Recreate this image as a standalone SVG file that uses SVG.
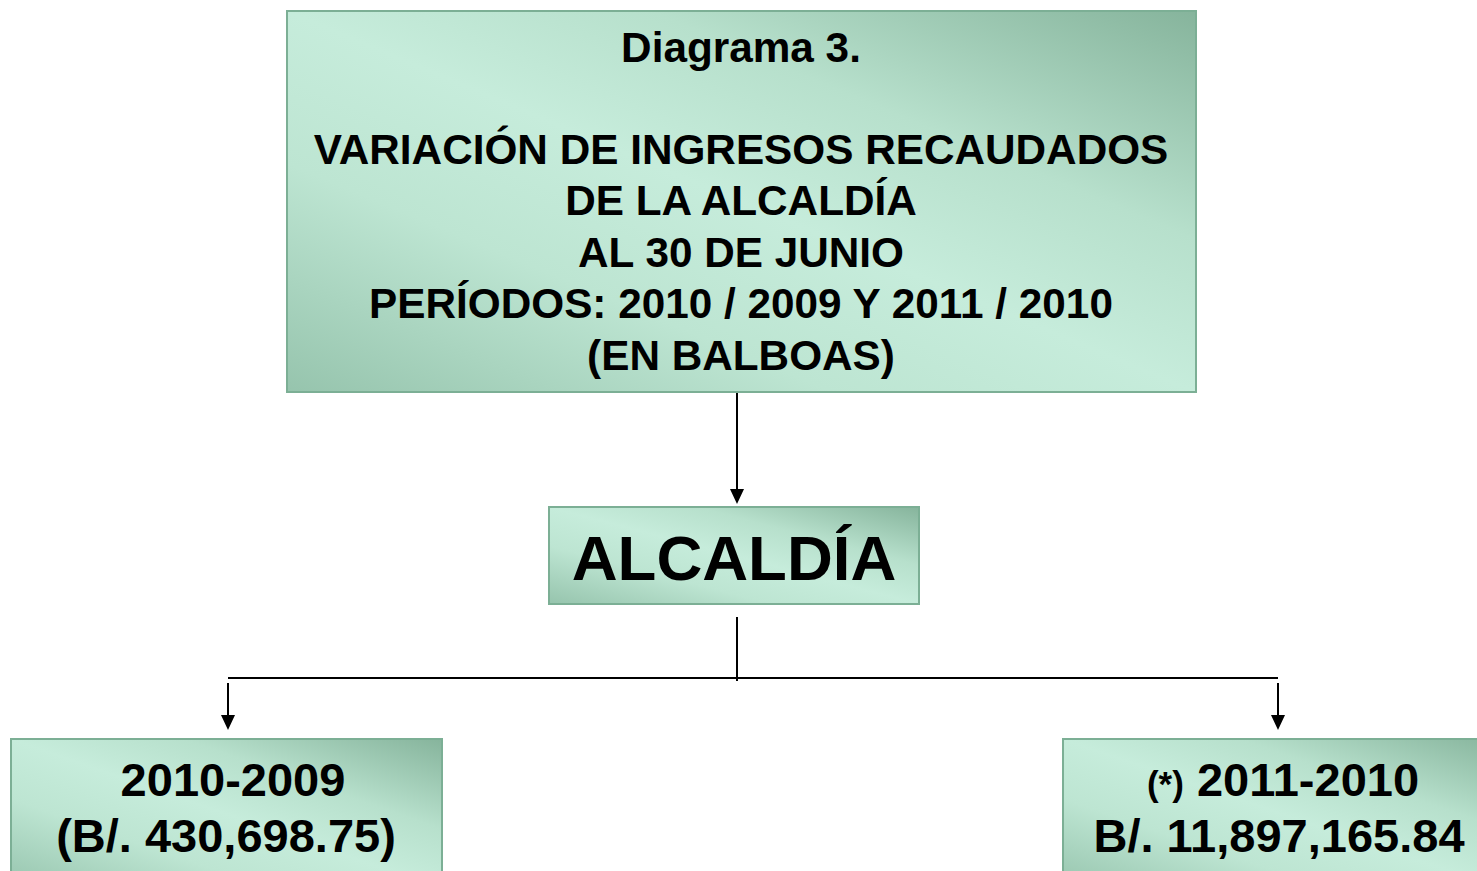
<svg xmlns="http://www.w3.org/2000/svg" width="1477" height="871" viewBox="0 0 1477 871">
<defs>
<linearGradient id="g" x1="0" y1="1" x2="1" y2="0">
<stop offset="0" stop-color="#96c4ad"/>
<stop offset="0.3" stop-color="#bde5d2"/>
<stop offset="0.5" stop-color="#c6ecdb"/>
<stop offset="0.7" stop-color="#b7e0cc"/>
<stop offset="1" stop-color="#86b49c"/>
</linearGradient>
<style>
.box{fill:url(#g);stroke:#7caf95;stroke-width:2}
.t{font-family:"Liberation Sans",Arial,sans-serif;font-weight:bold;fill:#000;text-anchor:middle}
.c{stroke:#000;stroke-width:2;fill:none}
.h{fill:#000}
</style>
</defs>
<rect width="1477" height="871" fill="#fff"/>
<g id="connectors">
<line class="c" x1="737" y1="392" x2="737" y2="492"/>
<path class="h" d="M730,489 L744,489 L737,504 z"/>
<line class="c" x1="737" y1="617" x2="737" y2="681"/>
<line class="c" x1="228" y1="678" x2="1278" y2="678"/>
<line class="c" x1="228" y1="683" x2="228" y2="718"/>
<path class="h" d="M221,715 L235,715 L228,730 z"/>
<line class="c" x1="1278" y1="683" x2="1278" y2="718"/>
<path class="h" d="M1271,715 L1285,715 L1278,730 z"/>
</g>
<g id="title">
<rect class="box" x="287" y="11" width="909" height="381"/>
<text class="t" font-size="42.3"><tspan x="741" y="62">Diagrama 3.</tspan><tspan x="741" y="164">VARIACIÓN DE INGRESOS RECAUDADOS</tspan><tspan x="741" y="215">DE LA ALCALDÍA</tspan><tspan x="741" y="267">AL 30 DE JUNIO</tspan><tspan x="741" y="318">PERÍODOS: 2010 / 2009 Y 2011 / 2010</tspan><tspan x="741" y="370">(EN BALBOAS)</tspan></text>
</g>
<g id="alcaldia">
<rect class="box" x="549" y="507" width="370" height="97"/>
<text class="t" x="734" y="580" font-size="63.5">ALCALDÍA</text>
</g>
<g id="p2010">
<rect class="box" x="11" y="739" width="431" height="150"/>
<text class="t" font-size="47"><tspan x="233" y="796">2010-2009</tspan><tspan x="226" y="852">(B/. 430,698.75)</tspan></text>
</g>
<g id="p2011">
<rect class="box" x="1063" y="739" width="440" height="150"/>
<text class="t" font-size="47"><tspan x="1283" y="796"><tspan font-size="35">(*)</tspan> 2011-2010</tspan><tspan x="1279" y="852">B/. 11,897,165.84</tspan></text>
</g>
</svg>
